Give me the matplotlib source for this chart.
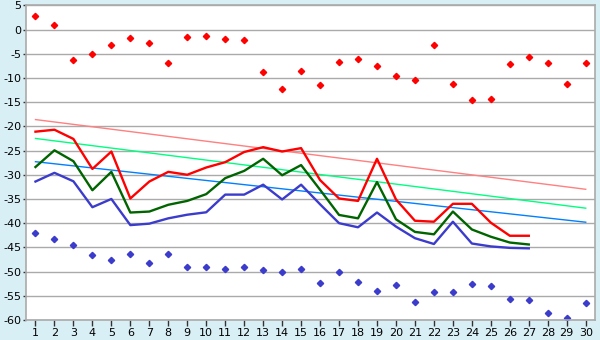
import numpy as np
import matplotlib
matplotlib.use("Agg")
import matplotlib.pyplot as plt

plt.rcParams["axes.unicode_minus"] = False

dias = list(range(1, 31))

# pontos de máxima e mínima (30 dias)
maximas = [2.7, 1.0, -6.4, -5.1, -3.1, -1.8, -2.85, -7.0, -1.6, -1.4,
           -2.0, -2.2, -8.8, -12.35, -8.6, -11.5, -6.8, -6.15, -7.6, -9.7,
           -10.5, -3.3, -11.3, -14.6, -14.4, -7.2, -5.75, -7.0, -11.3, -7.0]
minimas = [-42.1, -43.3, -44.6, -46.6, -47.7, -46.4, -48.3, -46.4, -49.1, -49.1,
           -49.5, -49.1, -49.7, -50.1, -49.5, -52.4, -50.1, -52.2, -54.1, -52.8,
           -56.3, -54.3, -54.3, -52.6, -53.0, -55.7, -55.9, -58.6, -59.6, -56.5]

# séries diárias (27 dias)
serie_alta = [-21.1, -20.7, -22.6, -28.8, -25.2, -34.9, -31.4, -29.4, -30.0, -28.5,
              -27.4, -25.3, -24.3, -25.2, -24.5, -31.1, -34.9, -35.4, -26.7, -35.1,
              -39.5, -39.7, -36.0, -36.0, -39.9, -42.6, -42.6]
serie_media = [-28.4, -24.95, -27.2, -33.2, -29.4, -37.8, -37.6, -36.2, -35.4, -34.0,
               -30.7, -29.2, -26.7, -30.1, -28.0, -33.1, -38.3, -39.0, -31.5, -39.2,
               -41.8, -42.3, -37.6, -41.3, -42.8, -44.0, -44.4]
serie_baixa = [-31.4, -29.6, -31.35, -36.7, -35.0, -40.4, -40.1, -39.0, -38.25, -37.75,
               -34.1, -34.1, -32.05, -35.1, -32.05, -36.1, -40.0, -40.85, -37.8, -40.7,
               -43.1, -44.3, -39.7, -44.2, -44.8, -45.1, -45.2]

# tendências lineares: valor no dia 1 e no dia 30
tend_alta = [-18.6, -33.0]
tend_media = [-22.5, -36.9]
tend_baixa = [-27.3, -39.8]

fig = plt.figure(figsize=(6, 3.4), dpi=100, facecolor="#d9eff6")
ax = fig.add_axes([0.0433, 0.0588, 0.9487, 0.9256])
ax.set_facecolor("white")

ext = [dias[0], dias[-1]]
ax.plot(ext, tend_alta, color="#ff8080", lw=1)
ax.plot(ext, tend_media, color="#00ff80", lw=1)
ax.plot(ext, tend_baixa, color="#0080ff", lw=1)

n = len(serie_alta)
ax.plot(dias[:n], serie_alta, color="#ff0000", lw=1.7)
ax.plot(dias[:n], serie_media, color="#006400", lw=1.7)
ax.plot(dias[:n], serie_baixa, color="#3b3bcc", lw=1.7)

ax.plot(dias, maximas, ls="none", marker="D", ms=3.2, color="#ff0000")
ax.plot(dias, minimas, ls="none", marker="D", ms=3.2, color="#3b3bcc")

ax.set_xlim(0.5, 30.5)
ax.set_ylim(-60, 5)
ax.set_xticks(dias)
ax.set_yticks(np.arange(-60, 6, 5))
ax.yaxis.grid(True, color="#aaaaaa", lw=1)
ax.set_axisbelow(True)
for s in ax.spines.values():
    s.set_color("#aaaaaa")
    s.set_linewidth(1.2)
ax.tick_params(axis="x", length=4, width=1, color="#333333", labelsize=8, pad=2)
ax.tick_params(axis="y", length=2.5, width=1, color="#333333", labelsize=8, pad=1)

fig.savefig("out.png", dpi=100, facecolor=fig.get_facecolor())
